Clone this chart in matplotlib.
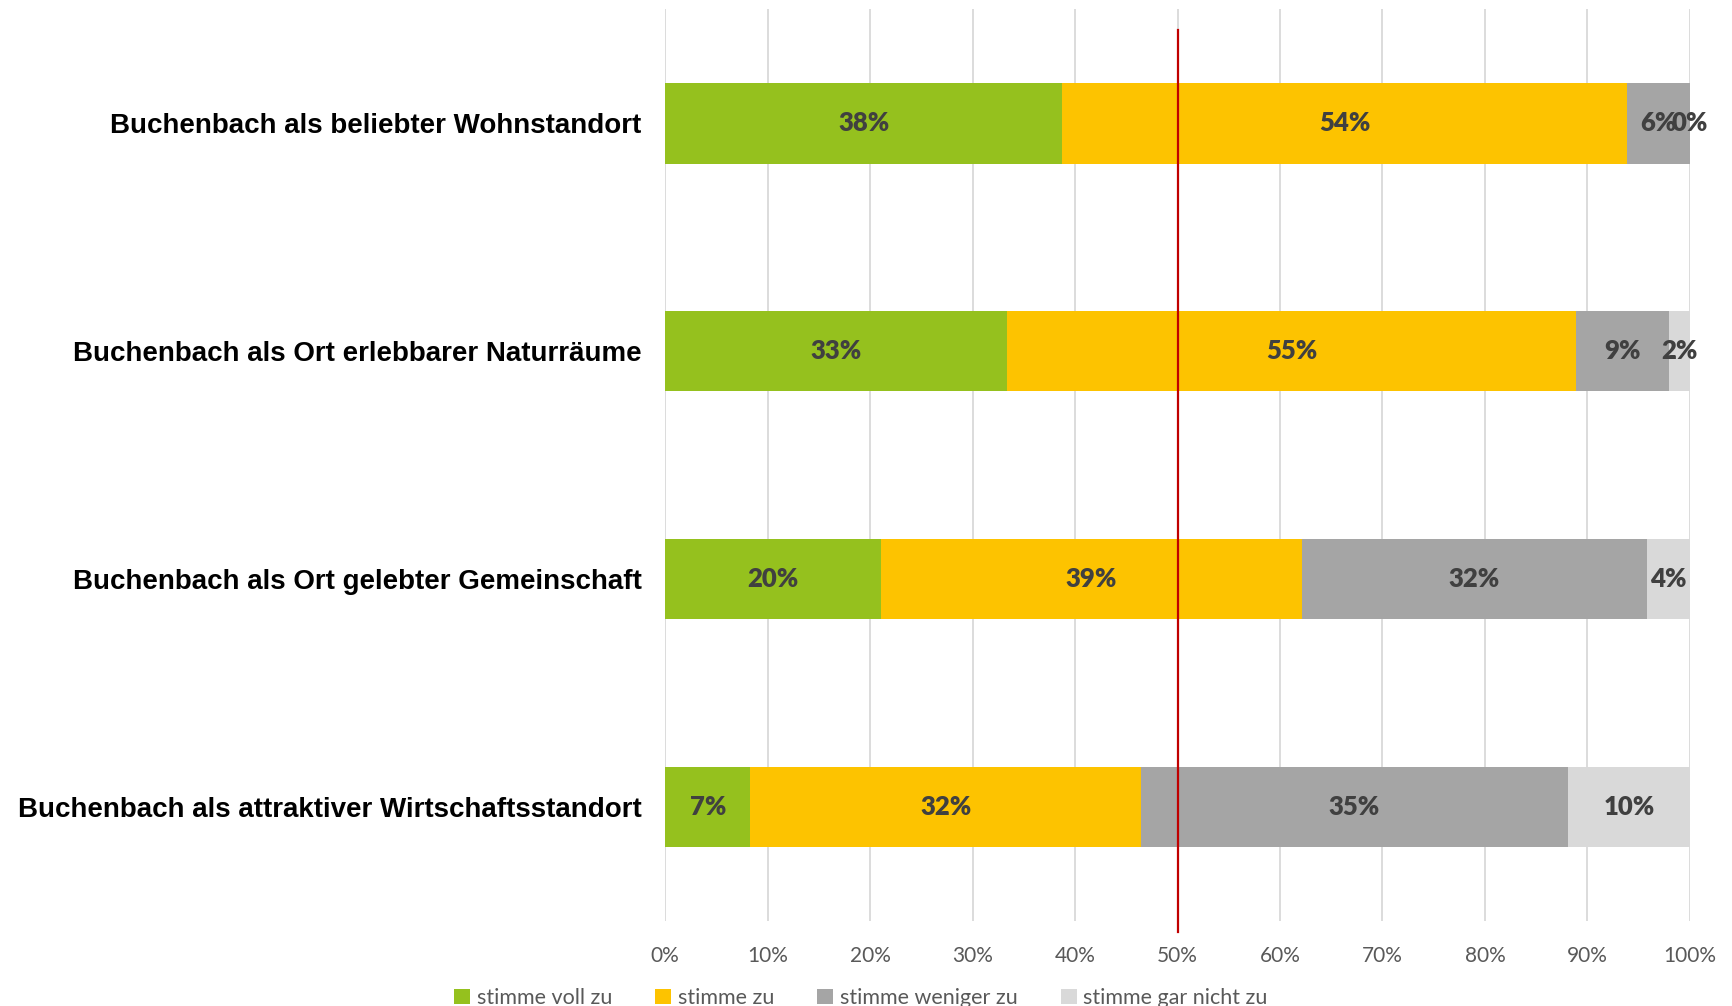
import matplotlib.pyplot as plt
import numpy as np

# Daten (Prozentwerte wie beschriftet)
kategorien = ["Buchenbach als beliebter Wohnstandort",
              "Buchenbach als Ort erlebbarer Naturräume",
              "Buchenbach als Ort gelebter Gemeinschaft",
              "Buchenbach als attraktiver Wirtschaftsstandort"]
voll_zu = [38, 33, 20, 7]
zu = [54, 55, 39, 32]
weniger_zu = [6, 9, 32, 35]
gar_nicht_zu = [0, 2, 4, 10]
serien_namen = ["stimme voll zu", "stimme zu", "stimme weniger zu", "stimme gar nicht zu"]
farben = ["#95C11E", "#FDC300", "#A5A5A5", "#D9D9D9"]

werte = np.array([voll_zu, zu, weniger_zu, gar_nicht_zu], dtype=float)
anteile = werte / werte.sum(axis=0) * 100  # 100% gestapelt

fig = plt.figure(figsize=(17.32, 10.06), dpi=100)
ax = fig.add_axes([0.384, 0.0845, 0.5917, 0.9065])

y = np.arange(len(kategorien))
links = np.zeros(len(kategorien))
for i in range(len(serien_namen)):
    ax.barh(y, anteile[i], left=links, height=0.355, color=farben[i],
            label=serien_namen[i], zorder=2)
    for j in range(len(kategorien)):
        ax.text(links[j] + anteile[i][j] / 2, y[j], f"{int(werte[i][j])}%",
                ha="center", va="center", fontsize=18.5, fontweight="heavy",
                color="#404040", family="Lato", zorder=4)
    links += anteile[i]

# rote 50%-Linie
ax.plot([50, 50], [-0.41, 3.55], color="#C00000", lw=1.6, zorder=3, clip_on=False)

ax.set_xlim(0, 100)
ax.set_ylim(3.5, -0.5)
ax.set_xticks(np.arange(0, 101, 10))
ax.set_xticklabels([f"{v}%" for v in range(0, 101, 10)], family="Lato",
                   fontsize=15, color="#595959")
ax.set_yticks(y)
ax.set_yticklabels(kategorien, family="Liberation Sans", fontsize=20,
                   fontweight="bold", color="black")
ax.tick_params(axis="both", length=0)
ax.tick_params(axis="y", pad=17)
ax.tick_params(axis="x", pad=18)
ax.grid(axis="x", color="#D9D9D9", lw=1.3, zorder=0)
ax.set_axisbelow(True)
for s in ax.spines.values():
    s.set_visible(False)

fig.legend(loc="center", bbox_to_anchor=(0.497, 0.008), ncol=4, frameon=False,
           prop={"family": "Lato", "size": 15.5}, labelcolor="#595959",
           handlelength=0.75, handleheight=0.75, handletextpad=0.3, columnspacing=2.0)

fig.savefig("out.png", dpi=100)
